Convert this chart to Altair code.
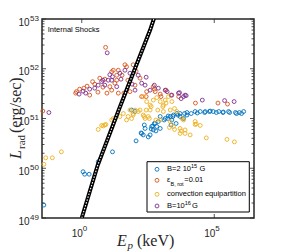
import altair as alt
import numpy as np
import pandas as pd

# ---------------- data (log10 of Ep [keV] and log10 of L_rad [erg/s]) ----------------
blue_log_ep = [-1.43, 0.05, 0.11, 0.28, 0.62, 1.16, 2.05, 1.88, 2.01, 2.96, 3.15, 3.34, 3.46, 3.59,
               3.71, 3.84, 3.97, 3.40, 2.89, 2.77, 2.83, 2.64, 2.39, 2.70, 2.26, 2.32, 2.51, 2.58,
               2.96, 2.36, 2.74, 3.25, 3.44, 3.63, 3.88, 4.13, 4.36, 4.64, 4.82, 5.08, 5.33, 5.58,
               5.84, 6.03, 3.71, 3.97, 4.28, 4.47, 4.66, 4.85, 4.96, 5.17, 5.34, 5.54, 5.80, 5.95,
               6.11, 3.37, 3.56, 2.24, 2.62, 2.80, 2.68, 3.11, 3.26]
blue_log_l = [49.26, 49.93, 49.88, 49.88, 50.13, 50.33, 50.55, 51.17, 51.14, 51.04, 51.00, 51.04,
              51.07, 51.10, 51.04, 51.00, 51.07, 50.97, 50.94, 50.90, 50.84, 50.84, 50.80, 50.77,
              50.70, 50.67, 50.63, 50.67, 50.80, 50.87, 50.90, 51.00, 51.04, 51.07, 51.10, 51.10,
              51.11, 51.12, 51.14, 51.12, 51.12, 51.12, 51.10, 51.10, 51.10, 51.12, 51.14, 51.14,
              51.14, 51.15, 51.14, 51.14, 51.13, 51.14, 51.12, 51.12, 51.14, 50.87, 50.90, 50.71,
              50.79, 50.75, 50.85, 50.97, 51.05]

orange_log_ep = [-1.47, 0.90, -0.20, -0.23, -0.08, 0.20, 0.41, 0.49, 0.68, 0.87, 1.13, 1.38, 1.06,
                 1.32, 1.38, 1.63, 1.69, 1.94, 1.19, 1.32, 1.25, 1.13, 2.20, 2.01, 1.82, 2.70, 2.45,
                 2.77, 2.26, 2.74, 3.37, 3.66, 4.29, 5.14, 5.50, 2.99, 2.43, 0.08, 0.61, 0.80, 1.52,
                 1.74, 0.30, 0.95, 2.05, 1.59, 2.96, 3.18]
orange_log_l = [51.15, 52.43, 51.54, 51.51, 51.59, 51.65, 51.74, 51.69, 51.81, 51.79, 51.94, 51.97,
                51.64, 51.77, 51.51, 52.08, 52.04, 52.08, 51.97, 51.87, 51.71, 51.57, 51.81, 51.67,
                51.54, 51.64, 51.54, 51.54, 51.44, 51.59, 51.47, 51.44, 51.31, 51.31, 51.29, 51.44,
                51.44, 51.61, 51.53, 51.63, 51.87, 51.77, 51.47, 51.51, 51.95, 51.51, 51.49, 51.57]

yellow_log_ep = [-1.43, -1.36, -1.11, -0.77, 0.62, 0.81, 0.75, 0.91, 1.13, 1.44, 0.87, 1.94, 2.20,
                 1.88, 1.69, 1.82, 2.01, 2.13, 1.94, 1.75, 1.57, 1.19, 2.32, 2.51, 2.58, 3.08, 3.34,
                 3.59, 2.39, 2.96, 3.34, 3.46, 3.71, 3.90, 2.32, 2.45, 2.70, 2.83, 2.96, 3.15, 3.08,
                 3.27, 3.40, 2.58, 3.06, 2.87, 2.62, 2.43, 2.36, 2.55, 2.80, 3.50, 3.78, 3.84, 4.28,
                 4.28, 4.47, 3.71, 3.90, 4.09, 4.70, 5.48, 5.76, 3.31, 3.50, 3.75, 4.32, 3.18]
yellow_log_l = [50.08, 50.21, 50.21, 50.33, 50.78, 50.85, 50.86, 50.88, 50.97, 51.04, 50.87, 51.10,
                51.17, 51.00, 50.97, 51.17, 51.17, 51.14, 51.07, 51.04, 51.10, 51.00, 51.07, 51.04,
                51.17, 51.14, 51.17, 51.14, 51.00, 50.97, 50.94, 50.84, 50.80, 50.77, 51.44, 51.34,
                51.37, 51.42, 51.34, 51.37, 51.27, 51.44, 51.34, 51.27, 51.24, 51.17, 51.24, 51.17,
                51.04, 51.00, 50.97, 51.20, 51.00, 50.97, 50.94, 50.88, 50.86, 50.70, 50.70, 50.67,
                50.61, 50.58, 50.53, 50.82, 50.78, 50.75, 50.89, 51.31]

purple_log_ep = [-1.24, 0.96, -0.10, 0.05, 0.30, 0.62, 0.75, 1.00, 1.16, 0.87, 1.82, 1.44, 1.13,
                 1.32, 2.13, 2.26, 2.01, 2.39, 2.58, 2.89, 3.15, 3.65, 3.90, 2.43, 2.74, 3.22, 3.69,
                 3.75, 3.94, 4.55, 5.39, 5.75, 3.40, 3.84, 0.49, 0.80, 1.63, 1.48, 1.90, 0.15, 1.06]
purple_log_l = [51.12, 52.32, 51.49, 51.55, 51.59, 51.67, 51.74, 51.77, 51.84, 51.67, 51.91, 51.91,
                51.77, 51.64, 51.87, 51.71, 51.57, 51.67, 51.57, 51.61, 51.57, 51.51, 51.47, 51.83,
                51.67, 51.54, 51.52, 51.40, 51.46, 51.37, 51.36, 51.34, 51.47, 51.44, 51.61, 51.77,
                51.97, 51.79, 51.69, 51.51, 51.88]

# relation line (Ep in keV, L in erg/s)
line_ep = [1.0, 4.0, 27.5, 380.0, 540.0]
line_l = [1e49, 1.15e50, 1.7e51, 6.0e52, 1.05e53]

# axis ticks / labels
x_tick_values = [1.0, 1e5]
x_tick_exps = ["0", "5"]
y_tick_values = [1e49, 1e50, 1e51, 1e52, 1e53]
y_tick_exps = ["49", "50", "51", "52", "53"]

series_names = ["B=2 10^15 G", "eps_B,rot=0.01", "convection equipartition", "B=10^16 G"]
series_colors = ["#0072BD", "#D95319", "#EDB120", "#7E2F8E"]

# ---------------- chart ----------------
W, H = 212, 199
AX = "#262626"
x_scale = alt.Scale(type="log", domain=[10 ** -1.5, 10 ** 6.5], nice=False)
y_scale = alt.Scale(type="log", domain=[1e49, 1e53], nice=False)
one = pd.DataFrame({"a": [0]})


def X(f):
    return alt.X(f, type="quantitative", scale=x_scale, axis=None)


def Y(f):
    return alt.Y(f, type="quantitative", scale=y_scale, axis=None)


layers = []
series = [(blue_log_ep, blue_log_l), (orange_log_ep, orange_log_l),
          (yellow_log_ep, yellow_log_l), (purple_log_ep, purple_log_l)]
for (lep, ll), col in zip(series, series_colors):
    df = pd.DataFrame({"Ep": 10 ** np.array(lep), "L": 10 ** np.array(ll)})
    layers.append(
        alt.Chart(df).mark_point(shape="circle", filled=False, size=15, strokeWidth=0.9,
                                 color=col, opacity=1)
        .encode(x=X("Ep"), y=Y("L"))
    )

line_df = pd.DataFrame({"Ep": line_ep, "L": line_l})
layers.append(alt.Chart(line_df).mark_line(color="black", strokeWidth=4, clip=True)
              .encode(x=X("Ep"), y=Y("L")))
layers.append(alt.Chart(line_df).mark_line(color="white", strokeWidth=1.1, strokeDash=[1.5, 1.5],
                                           clip=True)
              .encode(x=X("Ep"), y=Y("L")))

# inward ticks
y_minor = [m * 10.0 ** k for k in range(49, 53) for m in range(2, 10)]


def yrule(vals, x0, x1):
    return alt.Chart(pd.DataFrame({"v": vals})).mark_rule(color=AX, strokeWidth=0.8).encode(
        y=Y("v"), x=alt.value(x0), x2=alt.value(x1))


def xrule(vals, y0, y1):
    return alt.Chart(pd.DataFrame({"v": vals})).mark_rule(color=AX, strokeWidth=0.8).encode(
        x=X("v"), y=alt.value(y0), y2=alt.value(y1))


layers += [yrule(y_tick_values, 0, 4), yrule(y_minor, 0, 2.5),
           yrule(y_tick_values, W, W - 4), yrule(y_minor, W, W - 2.5),
           xrule(x_tick_values, H, H - 4), xrule(x_tick_values, 0, 4)]

# tick labels
ylab = pd.DataFrame({"v": y_tick_values, "base": ["10"] * len(y_tick_values), "exp": y_tick_exps})
layers.append(alt.Chart(ylab).mark_text(align="right", baseline="alphabetic", font="Liberation Sans",
                                        fontSize=10, dy=6.5, color=AX, fill=AX)
              .encode(y=Y("v"), x=alt.value(-12.5), text="base:N"))
layers.append(alt.Chart(ylab).mark_text(align="left", baseline="alphabetic", font="Liberation Sans",
                                        fontSize=8, dy=1.5, color=AX, fill=AX)
              .encode(y=Y("v"), x=alt.value(-12), text="exp:N"))
xlab = pd.DataFrame({"v": x_tick_values, "base": ["10"] * len(x_tick_values), "exp": x_tick_exps})
layers.append(alt.Chart(xlab).mark_text(align="right", baseline="alphabetic", font="Liberation Sans",
                                        fontSize=10, dx=1, color=AX, fill=AX)
              .encode(x=X("v"), y=alt.value(218), text="base:N"))
layers.append(alt.Chart(xlab).mark_text(align="left", baseline="alphabetic", font="Liberation Sans",
                                        fontSize=8, dx=1, color=AX, fill=AX)
              .encode(x=X("v"), y=alt.value(212), text="exp:N"))


def txt(s, x, y, size, font="Liberation Sans", style="normal", align="left", angle=0,
        color="black", baseline="alphabetic"):
    return alt.Chart(one).mark_text(text=s, align=align, baseline=baseline, font=font,
                                    fontSize=size, fontStyle=style, angle=angle, color=color,
                                    fill=color).encode(x=alt.value(x), y=alt.value(y))


SERIF = "Liberation Serif"
# axis titles
layers += [
    txt("E", 75, 227, 16, SERIF, "italic", color=AX),
    txt("p", 85.5, 230, 11, SERIF, "italic", color=AX),
    txt("(keV)", 95, 227, 16, SERIF, color=AX),
    txt("L", -21, 140, 16, SERIF, "italic", angle=270, color=AX),
    txt("rad", -17.5, 130, 11, SERIF, angle=270, color=AX),
    txt("(erg/sec)", -21, 114, 16, SERIF, angle=270, color=AX),
    txt("Internal Shocks", 5.7, 12.5, 7.5),
]

# legend
layers.append(alt.Chart(one).mark_rect(fill="white", stroke="black", strokeWidth=1).encode(
    x=alt.value(105), x2=alt.value(207.3), y=alt.value(142.7), y2=alt.value(193)))
row_y = [150.3, 161.3, 175.3, 187]
for ry, col in zip(row_y, series_colors):
    layers.append(alt.Chart(one).mark_point(shape="circle", filled=False, size=15, strokeWidth=0.9,
                                            color=col, opacity=1)
                  .encode(x=alt.value(115), y=alt.value(ry)))
M = "middle"
layers += [
    txt("B=2 10", 125, row_y[0], 7.5, baseline=M),
    txt("15", 149, row_y[0] - 3, 5.5, baseline=M),
    txt("G", 157.5, row_y[0], 7.5, baseline=M),
    txt("ε", 125, row_y[1], 7.5, baseline=M),
    txt("B, rot", 128.5, row_y[1] + 3.5, 5.5, baseline=M),
    txt("=0.01", 142.3, row_y[1], 7.5, baseline=M),
    txt("convection equipartition", 125, row_y[2], 7.5, baseline=M),
    txt("B=10", 125, row_y[3], 7.5, baseline=M),
    txt("16", 142.7, row_y[3] - 3, 5.5, baseline=M),
    txt("G", 150, row_y[3], 7.5, baseline=M),
]

chart = alt.layer(*layers).properties(
    width=W, height=H,
    autosize=alt.AutoSizeParams(type="none"),
    padding={"left": 34, "top": 11, "right": 20, "bottom": 34},
    background="white",
).configure_view(stroke=AX, strokeWidth=1.5)

chart.save("out.html", embed_options={"renderer": "svg", "actions": False})
